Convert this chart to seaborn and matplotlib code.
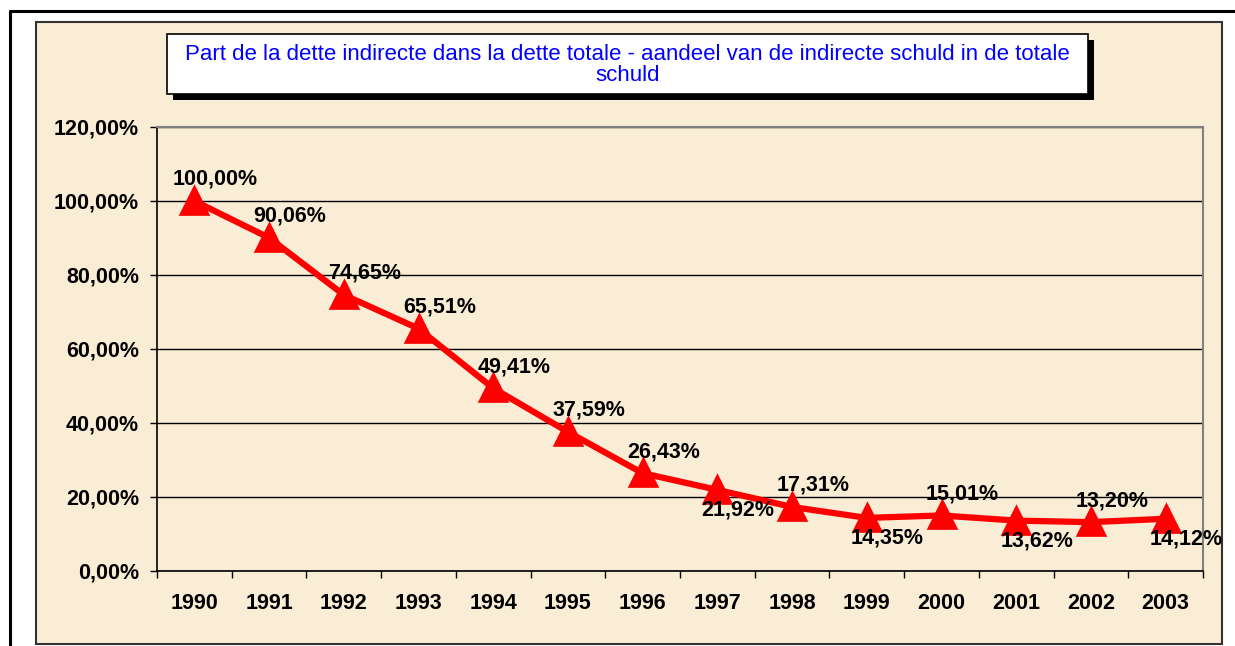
import numpy as np
import matplotlib
matplotlib.use("Agg")
import matplotlib.pyplot as plt
from matplotlib.patches import Rectangle
from matplotlib.lines import Line2D
import seaborn as sns
import pandas as pd

# ---- data ----
years = ["1990", "1991", "1992", "1993", "1994", "1995", "1996",
         "1997", "1998", "1999", "2000", "2001", "2002", "2003"]
share = [100.00, 90.06, 74.65, 65.51, 49.41, 37.59, 26.43,
         21.92, 17.31, 14.35, 15.01, 13.62, 13.20, 14.12]
label_side = ["above", "above", "above", "above", "above", "above", "above",
              "below", "above", "below", "above", "below", "above", "below"]
y_ticks = [0, 20, 40, 60, 80, 100, 120]
title_text = ("Part de la dette indirecte dans la dette totale - aandeel van de indirecte schuld in de totale\n"
              "schuld")

sns.set_theme(style="white")
plt.rcParams["font.family"] = ["Liberation Sans", "DejaVu Sans"]
plt.rcParams["text.color"] = "black"
plt.rcParams["xtick.color"] = "black"
plt.rcParams["ytick.color"] = "black"

W, H = 1235, 646
fig = plt.figure(figsize=(W / 100, H / 100), dpi=100)
fig.patch.set_facecolor("white")

beige = "#FAEDD6"

def fx(px):
    return px / W

def fy(py):
    return 1 - py / H

# outer frame lines
fig.add_artist(Line2D([fx(10), 1.0], [fy(11), fy(11)], color="black", lw=2.2,
                      transform=fig.transFigure))
fig.add_artist(Line2D([fx(10), fx(10)], [fy(11), 0.0], color="black", lw=2.2,
                      transform=fig.transFigure))
# beige chart area
fig.add_artist(Rectangle((fx(36), fy(644)), fx(1222 - 36), (644 - 22) / H,
                         transform=fig.transFigure, facecolor=beige,
                         edgecolor="#333333", lw=1.5, zorder=0))

# title box with shadow
bx0, bx1, by0, by1 = 167, 1088, 34, 94
fig.add_artist(Rectangle((fx(bx0 + 6), fy(by1 + 6)), fx(bx1 - bx0), (by1 - by0) / H,
                         transform=fig.transFigure, facecolor="black",
                         edgecolor="black", lw=0, zorder=2))
fig.add_artist(Rectangle((fx(bx0), fy(by1)), fx(bx1 - bx0), (by1 - by0) / H,
                         transform=fig.transFigure, facecolor="white",
                         edgecolor="black", lw=1.2, zorder=3))
fig.text(fx((bx0 + bx1) / 2), fy((by0 + by1) / 2 + 1), title_text, color="#0000FF",
         fontsize=16, ha="center", va="center", linespacing=1.0, zorder=4)

# plot area
left, right, top, bottom = 157, 1203, 127, 571
ax = fig.add_axes([fx(left), fy(bottom), fx(right - left), (bottom - top) / H])
ax.set_facecolor(beige)

df = pd.DataFrame({"year": years, "share": share})
sns.pointplot(data=df, x="year", y="share", color="#FF0000", markers="^",
              linestyles="-", errorbar=None, markersize=17, linewidth=4.5, ax=ax)

ax.set_xlim(-0.5, len(years) - 0.5)
ax.set_ylim(0, 120)
ax.set_xlabel("")
ax.set_ylabel("")

fs = 15.5
# y axis
ax.set_yticks(y_ticks)
ax.set_yticklabels([f"{v:.2f}".replace(".", ",") + "%" for v in y_ticks],
                   fontsize=fs, fontweight="bold", color="black")
ax.yaxis.grid(True, color="black", lw=1)
ax.xaxis.grid(False)
ax.set_axisbelow(True)
ax.tick_params(axis="y", direction="out", length=5, width=1, color="black", pad=8,
               left=True)

# x axis: ticks at boundaries, labels at centres
ax.set_xticks(np.arange(-0.5, len(years), 1.0))
ax.set_xticklabels([])
ax.set_xticks(np.arange(len(years)), minor=True)
ax.set_xticklabels(years, minor=True, fontsize=fs, fontweight="bold", color="black")
ax.tick_params(axis="x", which="major", direction="out", length=5, width=1,
               color="black", bottom=True)
ax.tick_params(axis="x", which="minor", length=0, pad=16)

for s in ["left", "bottom"]:
    ax.spines[s].set_color("black")
    ax.spines[s].set_linewidth(1.2)
for s in ["top", "right"]:
    ax.spines[s].set_color("#808080")
    ax.spines[s].set_linewidth(1.5)

# data labels
for i, (v, side) in enumerate(zip(share, label_side)):
    dy = 15.5 if side == "above" else -14.5
    ax.annotate(f"{v:.2f}".replace(".", ",") + "%", (i, v),
                xytext=(15, dy), textcoords="offset points",
                ha="center", va="center", fontsize=fs, fontweight="bold",
                color="black", zorder=5, annotation_clip=False)

fig.savefig("out.png", dpi=100, facecolor="white")
